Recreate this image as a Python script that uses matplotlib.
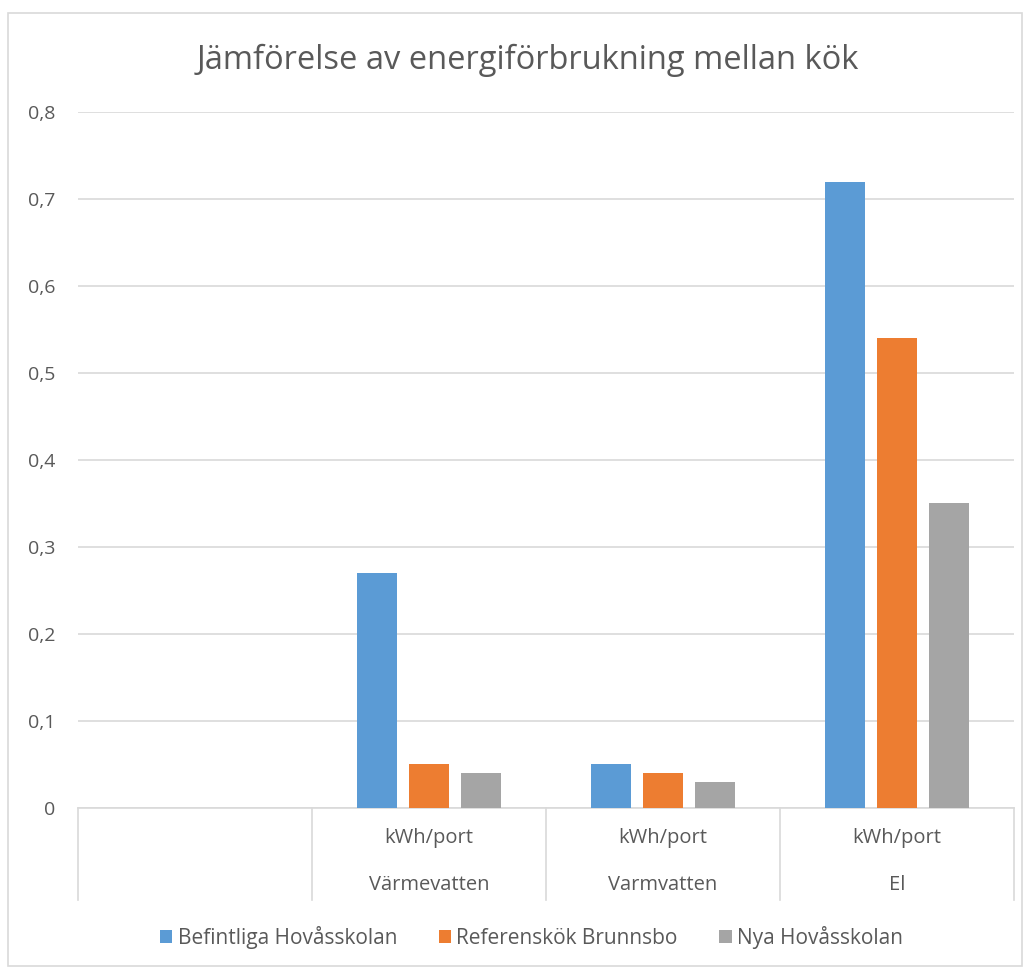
import numpy as np
import matplotlib.pyplot as plt
from matplotlib.patches import Rectangle

plt.rcParams['font.family'] = ['Open Sans', 'DejaVu Sans']

groups = ['', 'Värmevatten', 'Varmvatten', 'El']
units = ['', 'kWh/port', 'kWh/port', 'kWh/port']
series = ['Befintliga Hovåsskolan', 'Referenskök Brunnsbo', 'Nya Hovåsskolan']
befintliga = [np.nan, 0.27, 0.05, 0.72]
referens = [np.nan, 0.05, 0.04, 0.54]
nya = [np.nan, 0.04, 0.03, 0.35]
colors = ['#5B9BD5', '#ED7D31', '#A5A5A5']
yticks = [0, 0.1, 0.2, 0.3, 0.4, 0.5, 0.6, 0.7, 0.8]

txt = '#595959'
grid = '#d9d9d9'

fig = plt.figure(figsize=(10.3, 9.69), dpi=100)
ax = fig.add_axes([0.0757, 0.1662, 0.9088, 0.7182])

x = np.arange(len(groups)) + 0.5
w = 0.171
off = 0.222
for i, (vals, c, name) in enumerate(zip([befintliga, referens, nya], colors, series)):
    ax.bar(x + (i - 1) * off, vals, width=w, color=c, label=name, zorder=3)

ax.set_xlim(0, len(groups))
ax.set_ylim(0, 0.8)
ax.set_yticks(yticks)
ax.set_yticklabels([('%.1f' % v).replace('.', ',') if v else '0' for v in yticks])
ax.tick_params(axis='y', length=0, labelsize=14, colors=txt, pad=16)
ax.set_xticks([])
ax.grid(axis='y', color=grid, linewidth=1.2, zorder=0)
for s in ['top', 'right', 'left']:
    ax.spines[s].set_visible(False)
ax.spines['bottom'].set_color(grid)
ax.spines['bottom'].set_linewidth(1.2)

# multi-level category axis
tr = ax.get_xaxis_transform()
for xi, u, g in zip(x, units, groups):
    ax.text(xi, -0.043, u, transform=tr, ha='center', va='center', fontsize=14.5, color=txt)
    ax.text(xi, -0.111, g, transform=tr, ha='center', va='center', fontsize=14.5, color=txt)
for b in range(len(groups) + 1):
    ax.plot([b, b], [0, -0.132], transform=tr, color=grid, linewidth=1.2, clip_on=False)

fig.text(0.512, 0.938, 'Jämförelse av energiförbrukning mellan kök', ha='center', va='center',
         fontsize=23.5, color=txt)

fig.legend(loc='center', bbox_to_anchor=(0.516, 0.033), ncol=3, frameon=False,
           fontsize=15, labelcolor=txt, handlelength=0.6, handleheight=0.6,
           handletextpad=0.25, columnspacing=2.0)

fig.patches.append(Rectangle((8 / 1030, 3 / 969), 1014 / 1030, 953 / 969, transform=fig.transFigure,
                             fill=False, edgecolor=grid, linewidth=1.2))

fig.savefig('out.png', dpi=100)
